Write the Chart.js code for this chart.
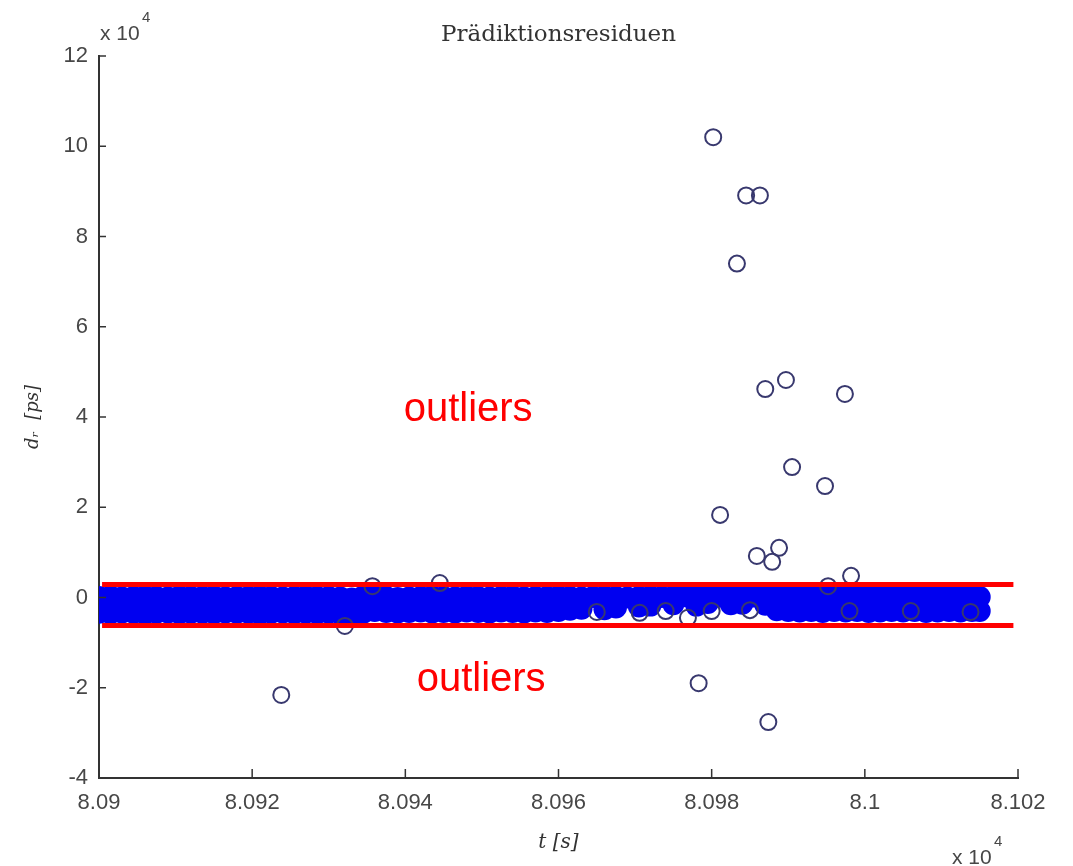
<!DOCTYPE html>
<html>
<head>
<meta charset="utf-8">
<script src="https://cdn.jsdelivr.net/npm/chart.js@4"></script>
<style>
  html, body { margin: 0; padding: 0; background: #fff; }
  #wrap { width: 1073px; height: 866px; }
</style>
</head>
<body>
<div id="wrap"><canvas id="residChart" width="1073" height="866"></canvas></div>
<script>
// time axis in units of 10^4 s, residuals in units of 10^4 ps
const xTicks = [8.09, 8.092, 8.094, 8.096, 8.098, 8.1, 8.102];
const yTicks = [-4, -2, 0, 2, 4, 6, 8, 10, 12];

// dense band of residuals close to zero
const tBand = [
  8.09, 8.09015, 8.0903, 8.09045, 8.0906, 8.09075, 8.0909, 8.09105, 8.0912, 8.09135,
  8.0915, 8.09165, 8.0918, 8.09195, 8.0921, 8.09225, 8.0924, 8.09255, 8.0927, 8.09285,
  8.093, 8.09315, 8.0933, 8.09345, 8.0936, 8.09375, 8.0939, 8.09405, 8.0942, 8.09435,
  8.0945, 8.09465, 8.0948, 8.09495, 8.0951, 8.09525, 8.0954, 8.09555, 8.0957, 8.09585,
  8.096, 8.09615, 8.0963, 8.09645, 8.0966, 8.09675, 8.0969, 8.09705, 8.0972, 8.09735,
  8.0975, 8.09765, 8.0978, 8.09795, 8.0981, 8.09825, 8.0984, 8.09855, 8.0987, 8.09885,
  8.099, 8.09915, 8.0993, 8.09945, 8.0996, 8.09975, 8.0999, 8.10005, 8.1002, 8.10035,
  8.1005, 8.10065, 8.1008, 8.10095, 8.1011, 8.10125, 8.1014, 8.1015
];
const dBandUpper = [
  0.01, 0.02, 0.00, 0.01, 0.02, 0.01, 0.00, 0.02, 0.01, 0.01,
  0.02, 0.00, 0.01, 0.01, 0.02, 0.01, 0.00, 0.01, 0.02, 0.01,
  0.01, 0.00, -0.02, 0.02, 0.04, 0.01, -0.01, 0.00, 0.01, 0.02,
  0.01, 0.00, 0.02, 0.01, 0.00, 0.01, 0.02, 0.00, 0.01, 0.01,
  0.02, 0.01, 0.00, 0.01, 0.02, 0.01, 0.00, 0.01, 0.02, 0.01,
  0.02, 0.03, 0.02, 0.03, 0.02, 0.03, 0.04, 0.02, 0.03, 0.03,
  0.03, 0.02, 0.03, 0.04, 0.03, 0.02, 0.03, 0.03, 0.04, 0.02,
  0.03, 0.03, 0.02, 0.03, 0.04, 0.03, 0.02, 0.01
];
const dBandLower = [
  -0.34, -0.35, -0.33, -0.34, -0.36, -0.34, -0.33, -0.35, -0.34, -0.34,
  -0.35, -0.33, -0.34, -0.34, -0.36, -0.34, -0.33, -0.35, -0.34, -0.35,
  -0.34, -0.36, -0.40, -0.34, -0.30, -0.32, -0.33, -0.32, -0.31, -0.33,
  -0.32, -0.33, -0.31, -0.32, -0.33, -0.31, -0.32, -0.33, -0.31, -0.32,
  -0.30, -0.27, -0.25, null, -0.26, -0.22, null, -0.20, -0.18, null,
  -0.15, null, -0.18, -0.12, null, -0.15, -0.14, null, -0.16, -0.28,
  -0.30, -0.31, -0.30, -0.32, -0.30, -0.31, -0.30, -0.32, -0.31, -0.30,
  -0.31, -0.30, -0.32, -0.31, -0.30, -0.31, -0.30, -0.30
];

// single residuals (outliers and loose points at the band edge)
const tPts = [
  8.09802, 8.09845, 8.09863, 8.09833, 8.09870, 8.09897, 8.09974, 8.09905, 8.09948, 8.09811,
  8.09859, 8.09888, 8.09879, 8.09982, 8.09238, 8.09783, 8.09874, 8.09321, 8.09769,
  8.09357, 8.09445, 8.09952, 8.09706, 8.09650, 8.09740, 8.09800, 8.09850, 8.10138, 8.10060, 8.09980
];
const dPts = [
  10.20, 8.91, 8.91, 7.40, 4.62, 4.82, 4.51, 2.89, 2.47, 1.83,
  0.92, 1.10, 0.79, 0.48, -2.16, -1.90, -2.76, -0.63, -0.45,
  0.25, 0.32, 0.25, -0.34, -0.32, -0.30, -0.30, -0.28, -0.32, -0.30, -0.30
];

// red threshold lines
const tLimit = [8.09004, 8.10194];
const dLimitUpper = [0.29, 0.29];
const dLimitLower = [-0.62, -0.62];

const outlierLabels = [
  { text: 'outliers', t: 8.09482, d: 4.15 },
  { text: 'outliers', t: 8.09499, d: -1.83 }
];

function pairs(xs, ys) {
  return xs.map((x, i) => ({ x: x, y: ys[i] })).filter(p => p.y !== null);
}

const tickFont = { family: 'Liberation Sans, Arial, sans-serif', size: 22 };
const tickColor = '#474747';

// title, inward tick marks, exponent notes and the red "outliers" words
const decorPlugin = {
  id: 'decor',
  afterDraw(chart) {
    const ctx = chart.ctx;
    const xs = chart.scales.x, ys = chart.scales.y;
    const area = chart.chartArea;
    ctx.save();

    ctx.fillStyle = '#333';
    ctx.textAlign = 'center';
    ctx.textBaseline = 'middle';
    ctx.font = '23px DejaVu Serif, serif';
    ctx.fillText('Prädiktionsresiduen', (area.left + area.right) / 2, 35);

    ctx.strokeStyle = '#333';
    ctx.lineWidth = 1.5;
    xTicks.forEach(v => {
      const px = xs.getPixelForValue(v);
      ctx.beginPath();
      ctx.moveTo(px, area.bottom);
      ctx.lineTo(px, area.bottom - 9);
      ctx.stroke();
    });
    yTicks.forEach(v => {
      const py = ys.getPixelForValue(v);
      ctx.beginPath();
      ctx.moveTo(area.left, py);
      ctx.lineTo(area.left + 7, py);
      ctx.stroke();
    });

    ctx.fillStyle = tickColor;
    ctx.textBaseline = 'alphabetic';
    ctx.textAlign = 'left';
    ctx.font = '21px Liberation Sans, Arial, sans-serif';
    ctx.fillText('x 10', area.left + 1, 40);
    ctx.fillText('x 10', area.right - 66, 864);
    ctx.font = '15px Liberation Sans, Arial, sans-serif';
    ctx.fillText('4', area.left + 43, 22);
    ctx.fillText('4', area.right - 24, 846);

    ctx.fillStyle = '#ff0000';
    ctx.textAlign = 'center';
    ctx.textBaseline = 'middle';
    ctx.font = '40px Liberation Sans, Arial, sans-serif';
    outlierLabels.forEach(o => {
      ctx.fillText(o.text, xs.getPixelForValue(o.t), ys.getPixelForValue(o.d));
    });
    ctx.restore();
  }
};

const ctx = document.getElementById('residChart').getContext('2d');
new Chart(ctx, {
  type: 'scatter',
  data: {
    datasets: [
      {
        label: 'limit upper',
        type: 'line',
        data: pairs(tLimit, dLimitUpper),
        borderColor: '#ff0000',
        borderWidth: 5,
        pointRadius: 0,
        order: 0
      },
      {
        label: 'limit lower',
        type: 'line',
        data: pairs(tLimit, dLimitLower),
        borderColor: '#ff0000',
        borderWidth: 5,
        pointRadius: 0,
        order: 0
      },
      {
        label: 'band upper',
        data: pairs(tBand, dBandUpper),
        backgroundColor: '#0000f0',
        borderWidth: 0,
        pointRadius: 11,
        order: 2
      },
      {
        label: 'band lower',
        data: pairs(tBand, dBandLower),
        backgroundColor: '#0000f0',
        borderWidth: 0,
        pointRadius: 11,
        order: 2
      },
      {
        label: 'residuals',
        data: pairs(tPts, dPts),
        backgroundColor: 'rgba(0,0,0,0)',
        borderColor: '#38386e',
        borderWidth: 2,
        pointRadius: 8,
        order: 1
      }
    ]
  },
  options: {
    responsive: false,
    animation: false,
    layout: { padding: { left: 0, right: 55, top: 56, bottom: 0 } },
    plugins: {
      legend: { display: false },
      tooltip: { enabled: false },
      title: { display: false }
    },
    scales: {
      x: {
        type: 'linear',
        min: 8.09,
        max: 8.102,
        afterBuildTicks: s => { s.ticks = xTicks.map(v => ({ value: v })); },
        afterFit: s => { s.height = 88; },
        ticks: {
          color: tickColor,
          font: tickFont,
          padding: 12,
          maxRotation: 0,
          autoSkip: false,
          callback: v => String(v)
        },
        grid: { display: false, drawTicks: false },
        border: { display: true, color: '#333', width: 2 },
        title: {
          display: true,
          text: 't [s]',
          color: '#333',
          font: { family: 'DejaVu Serif, serif', size: 20, style: 'italic' },
          padding: { top: 0, bottom: 11 }
        }
      },
      y: {
        type: 'linear',
        min: -4,
        max: 12,
        afterBuildTicks: s => { s.ticks = yTicks.map(v => ({ value: v })); },
        afterFit: s => { s.width = 99; },
        ticks: {
          color: tickColor,
          font: tickFont,
          padding: 11,
          autoSkip: false
        },
        grid: { display: false, drawTicks: false },
        border: { display: true, color: '#333', width: 2 },
        title: {
          display: true,
          text: 'dᵣ  [ps]',
          color: '#333',
          font: { family: 'DejaVu Serif, serif', size: 18, style: 'italic' },
          padding: { top: 23, bottom: 0 }
        }
      }
    }
  },
  plugins: [decorPlugin]
});
</script>
</body>
</html>
